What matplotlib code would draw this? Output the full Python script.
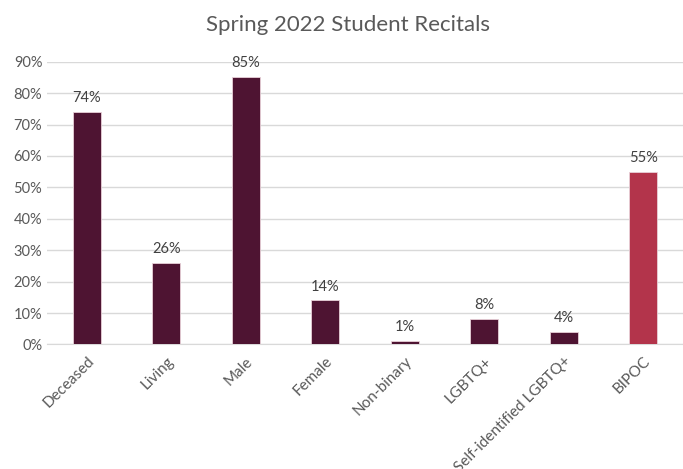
import matplotlib.pyplot as plt
from matplotlib.ticker import PercentFormatter

categories = ["Deceased", "Living", "Male", "Female", "Non-binary",
              "LGBTQ+", "Self-identified LGBTQ+", "BIPOC"]
values = [74, 26, 85, 14, 1, 8, 4, 55]
colors = ["#4E1432"] * 7 + ["#B3344B"]

plt.rcParams['font.family'] = ['Lato', 'DejaVu Sans']
text_color = "#595959"

fig = plt.figure(figsize=(6.83, 4.69), dpi=100)
ax = fig.add_axes([0.069, 0.2655, 0.931, 0.603])

x = range(len(categories))
bars = ax.bar(x, values, width=0.35, color=colors, edgecolor="#E8D0D8",
              linewidth=0.6, zorder=3)

for b, v in zip(bars, values):
    ax.annotate(f"{v}%", (b.get_x() + b.get_width() / 2, v),
                xytext=(0, 5), textcoords="offset points",
                ha="center", va="bottom", fontsize=10.5, color="#404040")

ax.set_xlim(-0.5, len(categories) - 0.5)
ax.set_ylim(0, 90)
ax.set_yticks(range(0, 91, 10))
ax.yaxis.set_major_formatter(PercentFormatter(decimals=0))
ax.grid(axis="y", color="#D9D9D9", linewidth=1, zorder=0)
ax.set_xticks(list(x))
ax.set_xticklabels(categories, rotation=45, ha="right",
                   rotation_mode="anchor", fontsize=11, color=text_color)
ax.tick_params(axis="both", length=0, labelsize=10.5, labelcolor=text_color)
ax.tick_params(axis="x", labelsize=11, pad=7)
for s in ["top", "right", "left"]:
    ax.spines[s].set_visible(False)
ax.spines["bottom"].set_color("#D9D9D9")

fig.suptitle("Spring 2022 Student Recitals", x=0.51, y=0.968,
             fontsize=16, color=text_color)

plt.savefig("out.png", dpi=100)
